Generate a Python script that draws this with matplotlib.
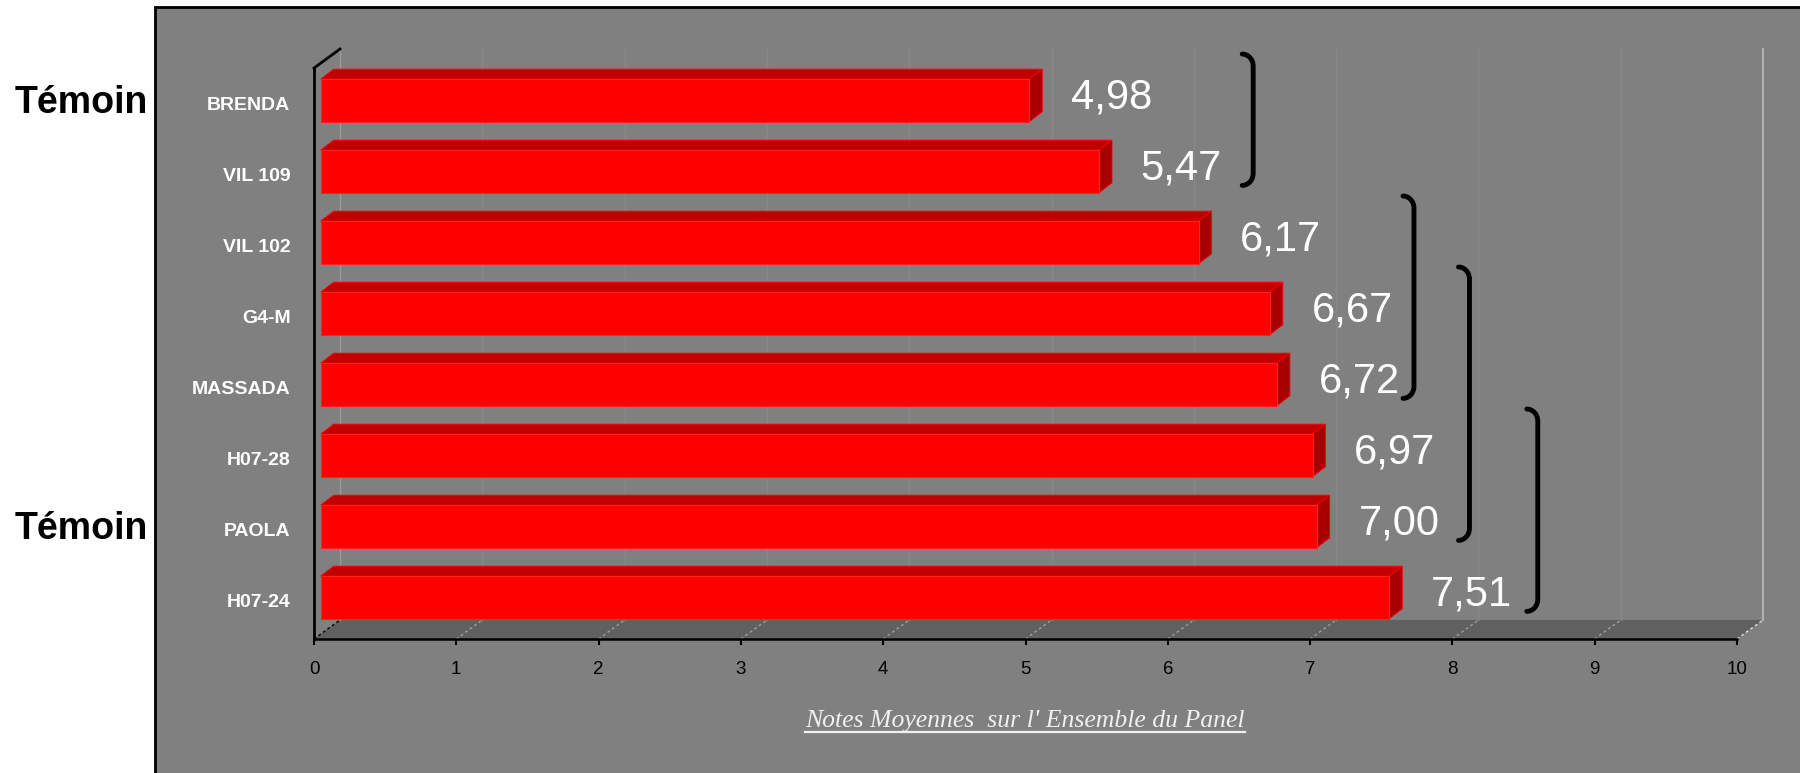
import numpy as np
import matplotlib
matplotlib.use('Agg')
from matplotlib import pyplot as plt
from matplotlib.patches import Polygon, Rectangle, PathPatch
from matplotlib.path import Path
from matplotlib import transforms

plt.rcParams['font.family'] = ['Liberation Sans', 'DejaVu Sans']

varieties = ['BRENDA', 'VIL 109', 'VIL 102', 'G4-M', 'MASSADA', 'H07-28', 'PAOLA', 'H07-24']
notes = [4.98, 5.47, 6.17, 6.67, 6.72, 6.97, 7.00, 7.51]
temoins = ['BRENDA', 'PAOLA']
# groupes homogenes (premiere, derniere variete) et position x des accolades
groups = [(0, 1), (2, 4), (3, 6), (5, 7)]
group_x = [6.60, 7.73, 8.12, 8.60]
xticks = list(range(0, 11))
xlabel = "Notes Moyennes  sur l' Ensemble du Panel"

rows = np.arange(len(varieties))
Y_BOT, Y_TOP = 7.549, -0.761
DX, DY = 0.183, -0.268      # profondeur du plancher / mur
BDX, BDY = 0.091, -0.14     # profondeur des barres
SHX, SHY = 0.047, -0.037    # decalage des barres
BH = 0.60

fig = plt.figure(figsize=(18, 7.73), dpi=100)
fig.patch.set_facecolor('white')
panel = Rectangle((155/1800, -0.01), 1.0, (773-7)/773 + 0.01, transform=fig.transFigure,
                  facecolor='#808080', edgecolor='black', linewidth=2, zorder=0)
fig.add_artist(panel)

ax = fig.add_axes([314/1800, (773-639)/773, 1423/1800, 590/773])
ax.set_facecolor('none')
ax.set_xlim(0, 10)
ax.set_ylim(Y_BOT, Y_TOP)

# plancher
floor = Polygon([(0, Y_BOT), (10, Y_BOT), (10 + DX, Y_BOT + DY), (DX, Y_BOT + DY)],
                closed=True, facecolor='#606060', edgecolor='none', zorder=1, clip_on=False)
ax.add_patch(floor)
for t in xticks:
    c = 'black' if t == 0 else ('#e0e0e0' if t == 10 else '#a0a0a0')
    ax.plot([t, t + DX], [Y_BOT, Y_BOT + DY], color=c, lw=1, ls=(0, (2, 2)), zorder=2, clip_on=False)
    gc = '#b0b0b0' if t == 10 else ('#9a9a9a' if t == 0 else '#888888')
    ax.plot([t + DX, t + DX], [Y_BOT + DY, Y_TOP], color=gc, lw=1.5 if t == 10 else 1,
            zorder=1, clip_on=False)
# arete du mur gauche
ax.plot([0, DX], [Y_TOP - DY, Y_TOP], color='black', lw=2, zorder=3, clip_on=False)

# barres 3D
ax.barh(rows + SHY, notes, left=SHX, height=BH, color='#ff0000', edgecolor='#ff2020',
        linewidth=0.8, zorder=5)
for r, v in zip(rows, notes):
    top = r + SHY - BH / 2
    bot = r + SHY + BH / 2
    x1 = SHX + v
    ax.add_patch(Polygon([(SHX, top), (x1, top), (x1 + BDX, top + BDY), (SHX + BDX, top + BDY)],
                         closed=True, facecolor='#c00000', edgecolor='#ff0000', lw=0.6, zorder=4))
    ax.add_patch(Polygon([(x1, top), (x1, bot), (x1 + BDX, bot + BDY), (x1 + BDX, top + BDY)],
                         closed=True, facecolor='#a80000', edgecolor='#ff0000', lw=0.6, zorder=4))
    ax.text(v + 0.34, r + 0.08, f'{v:.2f}'.replace('.', ','), color='white', fontsize=30,
            ha='left', va='baseline', zorder=6)

# accolades des groupes
w, h = 0.077, 0.17
for (a, b), gx in zip(groups, group_x):
    top = a - 0.69
    bot = b + 0.16
    verts = [(gx - w, top), (gx - 0.45 * w, top), (gx, top + 0.45 * h), (gx, top + h),
             (gx, bot - h),
             (gx, bot - 0.45 * h), (gx - 0.45 * w, bot), (gx - w, bot)]
    codes = [Path.MOVETO, Path.CURVE4, Path.CURVE4, Path.CURVE4, Path.LINETO,
             Path.CURVE4, Path.CURVE4, Path.CURVE4]
    ax.add_patch(PathPatch(Path(verts, codes), facecolor='none', edgecolor='black',
                           lw=3.5, capstyle='round', zorder=7, clip_on=False))

# axes
for s in ['top', 'right']:
    ax.spines[s].set_visible(False)
ax.spines['bottom'].set_linewidth(1.8)
ax.spines['left'].set_linewidth(2)
ax.spines['left'].set_bounds(Y_BOT, Y_TOP - DY)
ax.spines['bottom'].set_zorder(8)
ax.set_xticks(xticks)
ax.set_xticklabels([str(t) for t in xticks], fontsize=13.5, color='black')
ax.tick_params(axis='x', direction='out', length=4.5, width=1.5, pad=11)
ax.set_yticks(rows)
ax.set_yticklabels(varieties, fontsize=14, fontweight='bold', color='white')
ax.tick_params(axis='y', length=0, pad=17)

# temoins
trans = transforms.blended_transform_factory(fig.transFigure, ax.transData)
for name in temoins:
    r = varieties.index(name)
    fig.text(148/1800, r, 'Témoin', transform=trans, fontsize=27, fontweight='bold',
             color='black', ha='right', va='center')

# titre de l'axe souligne
lab = fig.text(1025/1800, (773-727)/773, xlabel, family='Liberation Serif', style='italic',
               fontsize=18.5, color='#f0f0f0', ha='center', va='baseline')
fig.canvas.draw()
bb = lab.get_window_extent()
uy = (773-732)/773
fig.add_artist(plt.Line2D([bb.x0/1800, bb.x1/1800], [uy, uy], transform=fig.transFigure,
                          color='#f0f0f0', lw=1.6))

fig.savefig('out.png', dpi=100)
